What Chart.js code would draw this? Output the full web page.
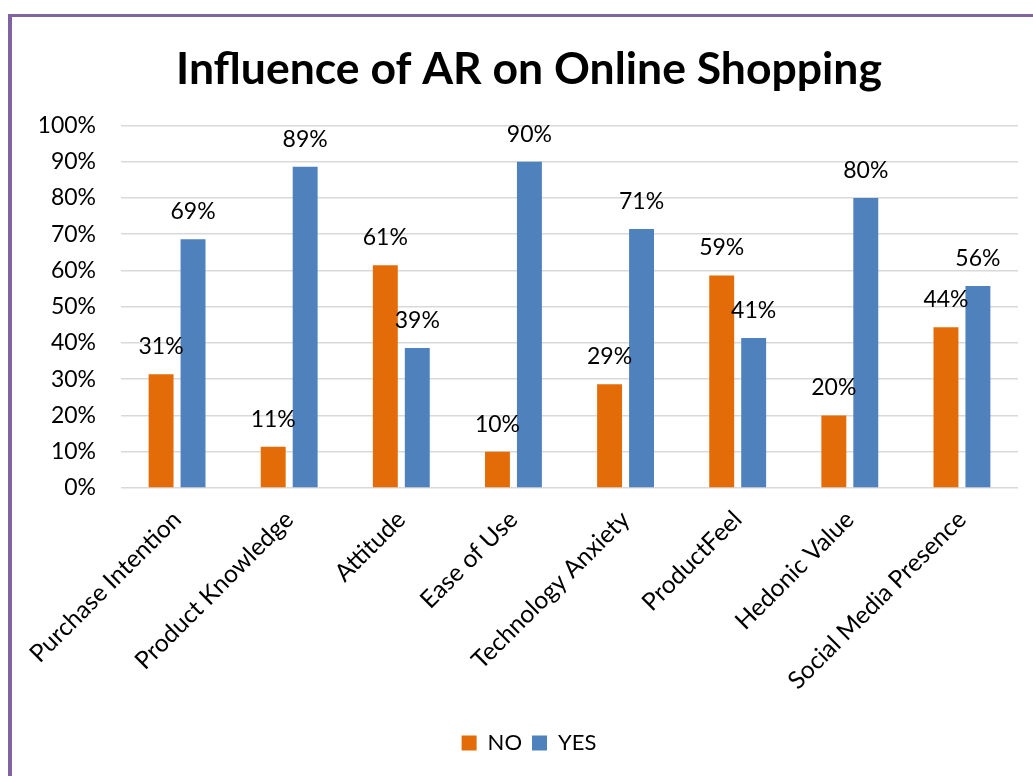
<!DOCTYPE html>
<html>
<head>
  <title>Influence of AR on Online Shopping</title>
  <script src="https://cdn.jsdelivr.net/npm/chart.js"></script>
  <style>
    body { margin: 0; background: #fff; overflow: hidden; }
    #frame {
      position: absolute; left: 8px; top: 14px; width: 1100px; height: 800px;
      border-top: 3px solid #8064a2; border-left: 4px solid #8064a2;
    }
    #wrap { position: absolute; left: 0; top: 0; width: 1033px; height: 776px; }
  </style>
</head>
<body>
  <div id="frame"></div>
  <div id="wrap">
    <canvas id="myChart" width="1033" height="776"></canvas>
  </div>

  <script>
    const categories = ['Purchase Intention', 'Product Knowledge', 'Attitude', 'Ease of Use',
      'Technology Anxiety', 'ProductFeel', 'Hedonic Value', 'Social Media Presence'];
    const noValues = [31.4, 11.4, 61.4, 10, 28.6, 58.6, 20, 44.3];
    const yesValues = [68.6, 88.6, 38.6, 90, 71.4, 41.4, 80, 55.7];
    const yTicks = [0, 10, 20, 30, 40, 50, 60, 70, 80, 90, 100];

    const FONT = 'Lato, Carlito, Calibri, sans-serif';

    // percentage labels above each bar
    const barLabels = {
      id: 'barLabels',
      afterDatasetsDraw(chart) {
        const ctx = chart.ctx;
        ctx.save();
        ctx.font = '23px ' + FONT;
        ctx.fillStyle = '#000';
        ctx.textAlign = 'center';
        ctx.textBaseline = 'bottom';
        chart.data.datasets.forEach((ds, i) => {
          chart.getDatasetMeta(i).data.forEach((bar, j) => {
            ctx.fillText(Math.round(ds.data[j]) + '%', bar.x, bar.y - 16);
          });
        });
        ctx.restore();
      }
    };

    const ctx = document.getElementById('myChart').getContext('2d');
    const myChart = new Chart(ctx, {
      type: 'bar',
      data: {
        labels: categories,
        datasets: [
          { label: 'NO', data: noValues, backgroundColor: '#e36c09' },
          { label: 'YES', data: yesValues, backgroundColor: '#4f81bd' }
        ]
      },
      options: {
        responsive: false,
        animation: false,
        datasets: { bar: { categoryPercentage: 0.57, barPercentage: 0.78 } },
        layout: { padding: { top: 27, right: 15, bottom: 12, left: 40 } },
        plugins: {
          title: {
            display: true,
            text: 'Influence of AR on Online Shopping',
            color: '#000',
            font: { family: FONT, size: 44.5, weight: 'bold' },
            padding: { top: 16, bottom: 29 }
          },
          legend: {
            position: 'bottom',
            labels: {
              color: '#000',
              font: { family: FONT, size: 22 },
              boxWidth: 15,
              boxHeight: 15,
              padding: 10
            }
          },
          tooltip: { enabled: false }
        },
        scales: {
          x: {
            grid: { display: false },
            border: { display: false },
            ticks: {
              color: '#000',
              font: { family: FONT, size: 24.5 },
              minRotation: 45,
              maxRotation: 45,
              padding: 9
            },
            afterFit(scale) { scale.height = 234; }
          },
          y: {
            min: 0,
            max: 100,
            afterBuildTicks(scale) { scale.ticks = yTicks.map(v => ({ value: v })); },
            grid: { color: '#d9d9d9', lineWidth: 1.5, drawTicks: false },
            border: { display: false },
            ticks: {
              color: '#000',
              font: { family: FONT, size: 23 },
              padding: 25,
              callback: v => v + '%'
            },
            afterFit(scale) { scale.width = 81; }
          }
        }
      },
      plugins: [barLabels]
    });
  </script>
</body>
</html>
